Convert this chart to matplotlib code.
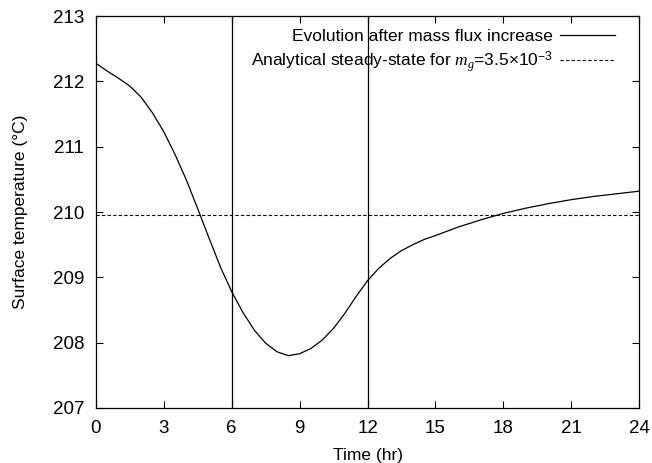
import matplotlib
matplotlib.use("Agg")
import matplotlib.pyplot as plt

#===============================================================================
# values
time_hr = [0.0, 0.5, 1.0, 1.5, 2.0, 2.5, 3.0, 3.5, 4.0, 4.5, 5.0, 5.5, 6.0, 6.5,
           7.0, 7.5, 8.0, 8.5, 9.0, 9.5, 10.0, 10.5, 11.0, 11.5, 12.0, 12.5,
           13.0, 13.5, 14.0, 14.5, 15.0, 16.0, 17.0, 18.0, 19.0, 20.0, 21.0,
           22.0, 23.0, 24.0]
surface_temp = [212.28, 212.16, 212.05, 211.93, 211.76, 211.52, 211.23, 210.88,
                210.49, 210.05, 209.60, 209.16, 208.78, 208.46, 208.19, 207.99,
                207.86, 207.80, 207.83, 207.91, 208.04, 208.22, 208.45, 208.71,
                208.95, 209.14, 209.29, 209.41, 209.50, 209.58, 209.64, 209.77,
                209.88, 209.98, 210.06, 210.13, 210.19, 210.24, 210.28, 210.32]
steady_state = 209.95
marker_times = [6, 12]

x_ticks = [0, 3, 6, 9, 12, 15, 18, 21, 24]
y_ticks = [207, 208, 209, 210, 211, 212, 213]

label_evolution = "Evolution after mass flux increase"
label_steady = r"Analytical steady-state for $\mathit{m_g}$=3.5$\times$10$^{\mathregular{-3}}$"

#===============================================================================
plt.rcParams["font.family"] = ["Liberation Sans", "DejaVu Sans"]
plt.rcParams["mathtext.fontset"] = "custom"
plt.rcParams["mathtext.rm"] = "Liberation Sans"
plt.rcParams["mathtext.it"] = "Liberation Serif:italic"
plt.rcParams["font.size"] = 12.5

fig = plt.figure(figsize = (6.52, 4.63), dpi = 100)
ax = fig.add_axes([0.147, 0.119, 0.8335, 0.846])

ax.plot(time_hr, surface_temp, color = "black", lw = 0.9, label = label_evolution)
ax.axhline(steady_state, color = "black", lw = 0.8, ls = (0, (3, 2)), label = label_steady)
for t in marker_times:
    ax.axvline(t, color = "black", lw = 0.9)

ax.set_xlim(0, 24)
ax.set_ylim(207, 213)
ax.set_xticks(x_ticks)
ax.set_yticks(y_ticks)
ax.tick_params(direction = "in", length = 5, width = 0.8, top = True, right = True,
               pad = 8.5, labelsize = 13.5)
for side in ax.spines.values():
    side.set_linewidth(0.9)

ax.set_xlabel("Time (hr)", labelpad = 8)
ax.set_ylabel("Surface temperature (\u00b0C)", labelpad = 18)

ax.legend(loc = "upper right", bbox_to_anchor = (0.969, 0.985), borderaxespad = 0,
          frameon = False, markerfirst = False, handlelength = 3.2,
          handletextpad = 0.4, labelspacing = 0.3, fontsize = 12.5)

fig.savefig("out.png", dpi = 100)
